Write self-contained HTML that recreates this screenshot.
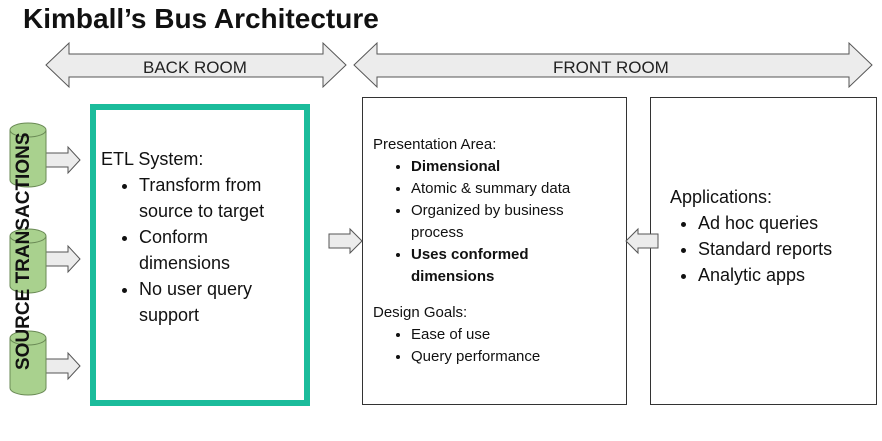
<!DOCTYPE html>
<html><head><style>
body{margin:0;width:882px;height:441px;background:#fff;position:relative;overflow:hidden;font-family:"Liberation Sans",sans-serif;color:#111}
.a{position:absolute}
.box{position:absolute;border:1px solid #333;background:#fff;box-sizing:border-box}
ul{margin:0;padding-left:22px}
li{margin:0}
</style></head><body>
<div class="a" style="left:23px;top:3px;font-size:28px;font-weight:bold;">Kimball’s Bus Architecture</div>
<div class="a" style="left:90px;top:104px;width:220px;height:302px;border:6px solid #1bbc9b;box-sizing:border-box;background:#fff"></div>
<div class="a" style="left:101px;top:146px;font-size:18px;line-height:26px;width:200px">ETL System:
<ul style="padding-left:38px"><li>Transform from source to target</li><li>Conform dimensions</li><li>No user query support</li></ul></div>
<div class="box" style="left:362px;top:97px;width:265px;height:308px"></div>
<div class="a" style="left:373px;top:134px;font-size:15px;line-height:22px;width:215px">Presentation Area:
<ul style="padding-left:38px"><li><b>Dimensional</b></li><li>Atomic &amp; summary data</li><li>Organized by business process</li><li><b>Uses conformed dimensions</b></li></ul>
<div style="margin-top:14px">Design Goals:</div>
<ul style="padding-left:38px"><li>Ease of use</li><li>Query performance</li></ul></div>
<div class="box" style="left:650px;top:97px;width:227px;height:308px"></div>
<div class="a" style="left:670px;top:184px;font-size:18px;line-height:26px;">Applications:
<ul style="padding-left:28px"><li>Ad hoc queries</li><li>Standard reports</li><li>Analytic apps</li></ul></div>
<svg class="a" style="left:0;top:0" width="882" height="441">
<g fill="#ececec" stroke="#555" stroke-width="1">
<polygon points="46,65 69,43 69,54 323,54 323,43 346,65 323,87 323,77 69,77 69,87"/>
<polygon points="354,65 377,43 377,54 849,54 849,43 872,65 849,87 849,77 377,77 377,87"/>
<polygon points="329,234 350,234 350,229 362,241 350,253 350,248 329,248"/>
<polygon points="658,234 638,234 638,229 626,241 638,253 638,248 658,248"/>
<polygon points="46,153 68,153 68,147 80,160 68,173 68,167 46,167"/>
<polygon points="46,252 68,252 68,246 80,259 68,272 68,266 46,266"/>
<polygon points="46,359 68,359 68,353 80,366 68,379 68,373 46,373"/>
</g>
<g fill="#a9d18e" stroke="#6a8a55" stroke-width="1">
<path d="M10,130 v50 a18,7 0 0 0 36,0 v-50"/><ellipse cx="28" cy="130" rx="18" ry="7"/>
<path d="M10,236 v50 a18,7 0 0 0 36,0 v-50"/><ellipse cx="28" cy="236" rx="18" ry="7"/>
<path d="M10,338 v50 a18,7 0 0 0 36,0 v-50"/><ellipse cx="28" cy="338" rx="18" ry="7"/>
</g>
<text x="0" y="0" transform="translate(29,370) rotate(-90)" font-family="Liberation Sans" font-weight="bold" font-size="19" fill="#111">SOURCE TRANSACTIONS</text>
<text x="143" y="73" font-family="Liberation Sans" font-size="17" fill="#222">BACK ROOM</text>
<text x="553" y="73" font-family="Liberation Sans" font-size="17" fill="#222">FRONT ROOM</text>
</svg>
</body></html>
